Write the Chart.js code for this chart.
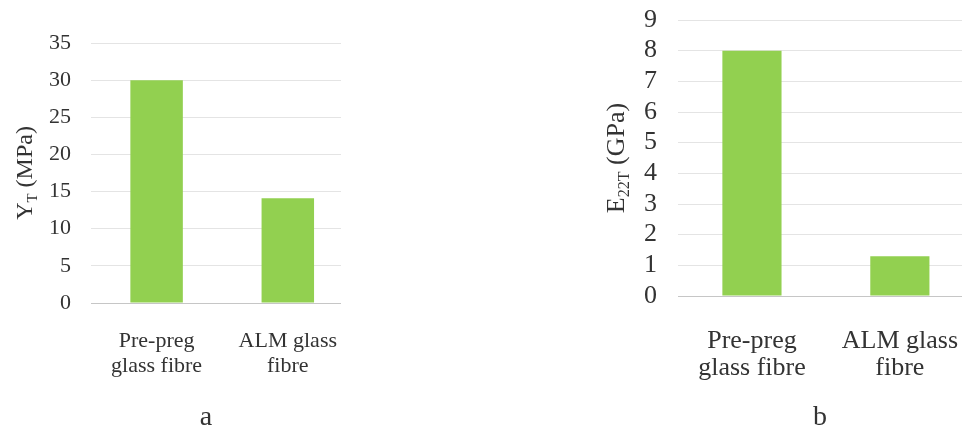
<!DOCTYPE html>
<html>
<head>
<meta charset="utf-8">
<script src="https://cdn.jsdelivr.net/npm/chart.js@4.4.1/dist/chart.umd.min.js"></script>
<style>
html, body { margin: 0; padding: 0; background: #fff; overflow: hidden; }
body { width: 962px; height: 430px; position: relative; font-family: "Liberation Serif", serif; color: #333; }
#wrapA { position: absolute; left: 0; top: 0; width: 341px; height: 430px; overflow: hidden; }
#wrapB { position: absolute; left: 560px; top: 0; width: 402px; height: 430px; overflow: hidden; }
.tag { position: absolute; top: 402px; font-size: 28px; line-height: 28px; transform: translateX(-50%); }
</style>
</head>
<body>
<div id="wrapA"><canvas id="chartA" width="363" height="430"></canvas></div>
<div id="wrapB"><canvas id="chartB" width="430" height="430"></canvas></div>
<div class="tag" style="left:206px">a</div>
<div class="tag" style="left:820px">b</div>
<script>
// data
var categories = [['Pre-preg', 'glass fibre'], ['ALM glass', 'fibre']];
var strength = [30, 14.1];      // Y_T in MPa
var modulus = [8, 1.3];         // E_22T in GPa
var strengthTicks = {min: 0, max: 35, step: 5};
var modulusTicks = {min: 0, max: 9, step: 1};

var ink = '#333333';
var green = '#92d050';
var serif = '"Liberation Serif", "Times New Roman", serif';

// rotated y title with a subscript part
function sideTitle(parts, size, x) {
    return {
        id: 'sideTitle',
        afterDraw: function (chart) {
            var ctx = chart.ctx, area = chart.chartArea;
            ctx.save();
            ctx.translate(x, (area.top + area.bottom) / 2);
            ctx.rotate(-Math.PI / 2);
            ctx.fillStyle = ink;
            ctx.textBaseline = 'middle';
            ctx.textAlign = 'left';
            var total = 0;
            parts.forEach(function (p) {
                ctx.font = (p.sub ? size * 0.62 : size) + 'px ' + serif;
                total += ctx.measureText(p.t).width;
            });
            var cx = -total / 2;
            parts.forEach(function (p) {
                ctx.font = (p.sub ? size * 0.62 : size) + 'px ' + serif;
                ctx.fillText(p.t, cx, p.sub ? size * 0.28 : 0);
                cx += ctx.measureText(p.t).width;
            });
            ctx.restore();
        }
    };
}

function makeChart(id, values, t, o) {
    return new Chart(document.getElementById(id), {
        type: 'bar',
        data: {
            labels: categories,
            datasets: [{
                data: values,
                backgroundColor: green,
                borderWidth: 0,
                barPercentage: 0.4,
                categoryPercentage: 1
            }]
        },
        options: {
            responsive: false,
            animation: false,
            layout: {padding: {top: o.top, right: 0, bottom: 0, left: 0}},
            plugins: {legend: {display: false}, tooltip: {enabled: false}},
            scales: {
                x: {
                    grid: {display: false, drawTicks: false},
                    border: {display: false},
                    ticks: {
                        color: ink,
                        maxRotation: 0,
                        autoSkip: false,
                        padding: o.xPad,
                        font: {family: serif, size: o.catSize, lineHeight: o.lineH}
                    },
                    afterFit: function (s) { s.height = o.xHeight; }
                },
                y: {
                    min: t.min,
                    max: t.max,
                    border: {display: false},
                    grid: {
                        drawTicks: false,
                        color: function (c) { return c.tick && c.tick.value === 0 ? '#c6c6c6' : '#e4e4e4'; },
                        lineWidth: 1
                    },
                    ticks: {
                        stepSize: t.step,
                        autoSkip: false,
                        color: ink,
                        padding: o.yPad,
                        font: {family: serif, size: o.tickSize}
                    },
                    afterFit: function (s) {
                        s.width = o.yWidth;
                        // tick padding would otherwise push the plot top down
                        s.paddingTop = 0;
                        s.paddingBottom = 0;
                    }
                }
            }
        },
        plugins: [sideTitle(o.title, o.titleSize, o.titleX)]
    });
}

makeChart('chartA', strength, strengthTicks, {
    top: 43, xHeight: 127, yWidth: 91, yPad: 20, xPad: 26,
    tickSize: 22, catSize: 22, lineH: 1.14, titleSize: 24, titleX: 26,
    title: [{t: 'Y'}, {t: 'T', sub: true}, {t: ' (MPa)'}]
});

makeChart('chartB', modulus, modulusTicks, {
    top: 20, xHeight: 134, yWidth: 118, yPad: 21, xPad: 32,
    tickSize: 26, catSize: 26, lineH: 1.04, titleSize: 26, titleX: 57,
    title: [{t: 'E'}, {t: '22T', sub: true}, {t: ' (GPa)'}]
});
</script>
</body>
</html>
